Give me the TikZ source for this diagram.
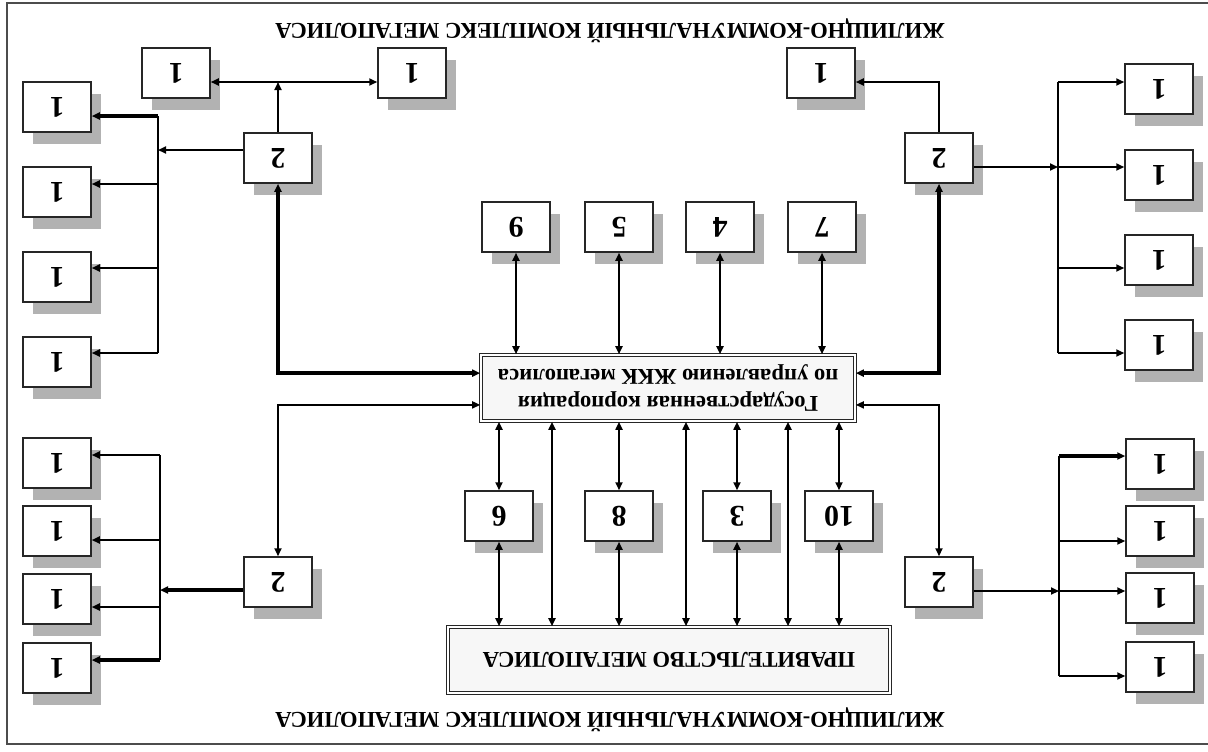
\documentclass[tikz,border=0pt]{standalone}
\usepackage{fontspec}
\setmainfont{Liberation Serif}[BoldFont={Liberation Serif Bold}, ItalicFont={Liberation Serif Italic}]
\usetikzlibrary{arrows.meta,shadows,calc}

\tikzset{
  box/.style={draw=black!85, line width=0.75pt, fill=white, minimum width=34pt, minimum height=25pt,
    inner sep=0pt, font=\fontsize{15}{17}\selectfont\bfseries,
    general shadow={fill=black!30, shadow xshift=5pt, shadow yshift=-6pt}},
  bigbox/.style={draw=black!85, line width=0.8pt, double=white, double distance=0.8pt, fill=black!3,
    inner sep=0pt, font=\fontsize{11.3}{13.5}\selectfont\bfseries},
  title/.style={font=\fontsize{11.3}{13}\selectfont\bfseries},
  conn/.style={line width=0.9pt, -{Triangle[length=4pt,width=3.5pt]}},
  both/.style={conn, {Triangle[length=4pt,width=3.5pt]}-{Triangle[length=4pt,width=3.5pt]}},
  heavy/.style={line width=1.7pt},
  bus/.style={line width=0.9pt},
}
\newcommand\up[1]{\rotatebox{180}{#1}}

\begin{document}
\begin{tikzpicture}[x=0.5pt, y=-0.5pt]
\useasboundingbox (0,0) rectangle (1208,751);
% frame and titles
\draw[black!70, line width=0.8pt] (1208,3) -- (7,3) -- (7,744) -- (1208,744);
\node[title] (ttop) at (610,31) {\up{ЖИЛИЩНО-КОММУНАЛЬНЫЙ КОМПЛЕКС МЕГАПОЛИСА}};
\node[title] (tbot) at (610,720) {\up{ЖИЛИЩНО-КОММУНАЛЬНЫЙ КОМПЛЕКС МЕГАПОЛИСА}};

% central blocks
\node[bigbox, minimum width=187pt, minimum height=33pt] (corp) at (668,388)
  {\up{\begin{tabular}{@{}c@{}}Государственная корпорация\\по управлению ЖКК мегаполиса\end{tabular}}};
\node[bigbox, minimum width=221pt, minimum height=33pt] (gov) at (669,660) {\up{ПРАВИТЕЛЬСТВО МЕГАПОЛИСА}};

% numbered blocks above and below
\foreach \n/\t/\x in {t9/9/516, t5/5/619, t4/4/720, t7/7/822} {
  \node[box] (\n) at (\x,227) {\up{\t}};
  \draw[both] (\n.south) -- (\n.south |- corp.north);
}
\foreach \n/\t/\x in {b6/6/499, b8/8/619, b3/3/737, b10/10/839} {
  \node[box] (\n) at (\x,516) {\up{\t}};
  \draw[both] (\n.north) -- (\n.north |- corp.south);
  \draw[both] (\n.south) -- (\n.south |- gov.north);
}
\foreach \m/\x in {1/552, 2/686, 3/788} {
  \coordinate (dir\m) at (\x,0);
  \draw[both] (corp.south -| dir\m) -- (gov.north -| dir\m);
}

% side entries of the corporation
\coordinate (cl1) at ($(corp.north west)!.28!(corp.south west)$);
\coordinate (cl2) at ($(corp.north west)!.75!(corp.south west)$);
\coordinate (cr1) at ($(corp.north east)!.28!(corp.south east)$);
\coordinate (cr2) at ($(corp.north east)!.75!(corp.south east)$);

% upper left group
\node[box] (tl2) at (278,158) {\up{2}};
\node[box] (tla) at (176,73) {\up{1}};
\node[box] (tlb) at (412,73) {\up{1}};
\foreach \n/\y in {1/107, 2/192, 3/277, 4/362}
  \node[box] (la\n) at (57,\y) {\up{1}};
\draw[both, heavy] (tl2.south) |- (cl1);
\coordinate (tlj) at (278,82);
\draw[conn] (tl2.north) -- (tlj);
\draw[both] (tlj -| tla.east) -- (tlj -| tlb.west);
\coordinate (lbt) at (158,116);
\coordinate (lbb) at (158,353);
\draw[bus] (lbt) -- (lbb);
\path ([yshift=4pt]tl2.west) coordinate (tl2w);
\draw[conn] (tl2w) -- (tl2w -| lbt);
\foreach \n/\y/\s in {1/116/heavy, 2/184/, 3/268/, 4/353/} {
  \coordinate (lk\n) at (158,\y);
  \draw[conn, \s] (lk\n) -- (lk\n -| la\n.east);
}

% upper right group
\node[box] (tr2) at (939,158) {\up{2}};
\node[box] (tra) at (821,73) {\up{1}};
\foreach \n/\y in {1/89, 2/175, 3/260, 4/345}
  \node[box] (ra\n) at (1159,\y) {\up{1}};
\draw[both, heavy] (tr2.south) |- (cr1);
\coordinate (trj) at (939,82);
\draw[conn] (tr2.north) -- (trj) -- (trj -| tra.east);
\coordinate (rbt) at (1058,82);
\coordinate (rbb) at (1058,353);
\draw[bus] (rbt) -- (rbb);
\path ([yshift=-4.5pt]tr2.east) coordinate (tr2e);
\draw[conn] (tr2e) -- (tr2e -| rbt);
\foreach \n/\y in {1/82, 2/167, 3/268, 4/353} {
  \coordinate (rk\n) at (1058,\y);
  \draw[conn] (rk\n) -- (rk\n -| ra\n.west);
}

% lower left group
\node[box] (bl2) at (278,582) {\up{2}};
\foreach \n/\y in {1/463, 2/531, 3/599, 4/668}
  \node[box] (lb\n) at (57,\y) {\up{1}};
\draw[both] (bl2.north) |- (cl2);
\coordinate (lct) at (160,455);
\coordinate (lcb) at (160,660);
\draw[bus] (lct) -- (lcb);
\path ([yshift=-4pt]bl2.west) coordinate (bl2w);
\draw[conn, heavy] (bl2w) -- (bl2w -| lct);
\foreach \n/\y/\s in {1/455/, 2/540/, 3/607/, 4/660/heavy} {
  \coordinate (lm\n) at (160,\y);
  \draw[conn, \s] (lm\n) -- (lm\n -| lb\n.east);
}

% lower right group
\node[box] (br2) at (939,582) {\up{2}};
\foreach \n/\y in {1/464, 2/531, 3/598, 4/667}
  \node[box] (rb\n) at (1160,\y) {\up{1}};
\draw[both] (br2.north) |- (cr2);
\coordinate (rct) at (1059,456);
\coordinate (rcb) at (1059,676);
\draw[bus] (rct) -- (rcb);
\path ([yshift=-4.5pt]br2.east) coordinate (br2e);
\draw[conn] (br2e) -- (br2e -| rct);
\foreach \n/\y/\s in {1/456/heavy, 2/541/, 3/591/, 4/676/} {
  \coordinate (rm\n) at (1059,\y);
  \draw[conn, \s] (rm\n) -- (rm\n -| rb\n.west);
}
\end{tikzpicture}
\end{document}
